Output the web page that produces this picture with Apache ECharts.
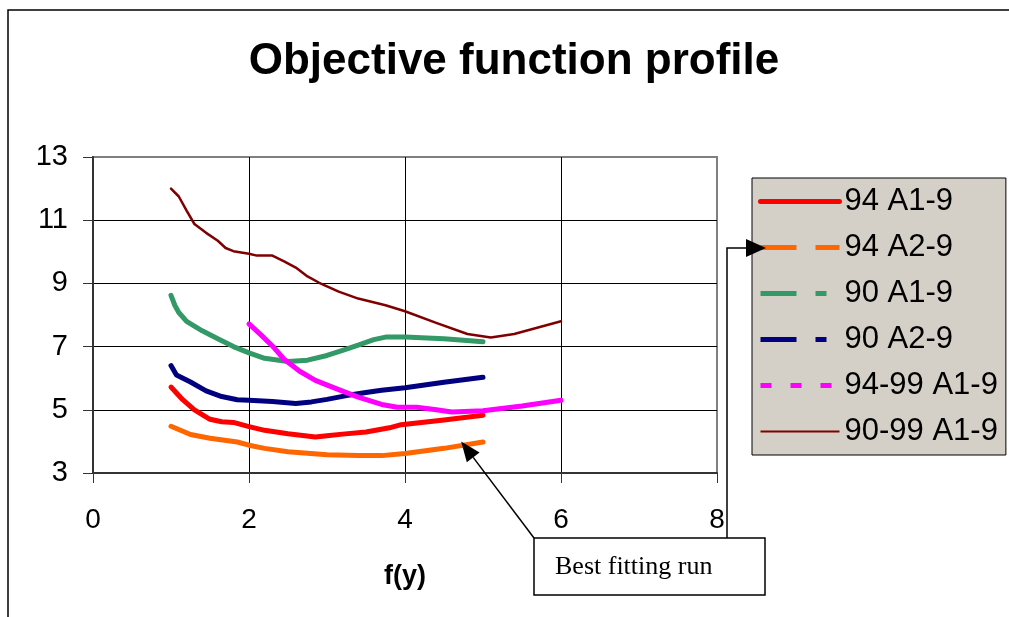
<!DOCTYPE html>
<html>
<head>
<meta charset="utf-8">
<script src="https://cdn.jsdelivr.net/npm/echarts@6/dist/echarts.min.js"></script>
<style>
html,body{margin:0;padding:0;background:#fff;}
#chart{width:1009px;height:617px;}
</style>
</head>
<body>
<div id="chart"></div>
<script>
// ---- data (x = f(y), y = objective function) ----
var seriesNames = ['94 A1-9', '94 A2-9', '90 A1-9', '90 A2-9', '94-99 A1-9', '90-99 A1-9'];
var s94A1 = [[1,5.72],[1.15,5.32],[1.3,5.0],[1.5,4.7],[1.65,4.62],[1.8,4.6],[2.0,4.47],[2.2,4.35],[2.5,4.24],[2.85,4.14],[3.0,4.18],[3.2,4.23],[3.5,4.3],[3.8,4.43],[3.95,4.53],[4.5,4.68],[5.0,4.83]];
var s94A2 = [[1,4.48],[1.25,4.22],[1.5,4.1],[1.85,3.98],[2.0,3.88],[2.2,3.78],[2.5,3.67],[3.0,3.58],[3.4,3.55],[3.7,3.55],[4.0,3.62],[4.5,3.78],[5.0,3.98]];
var s90A1 = [[1,8.62],[1.05,8.3],[1.1,8.08],[1.2,7.8],[1.4,7.5],[1.6,7.25],[1.8,7.0],[2.0,6.8],[2.2,6.63],[2.5,6.53],[2.75,6.57],[3.0,6.72],[3.2,6.88],[3.4,7.05],[3.6,7.22],[3.75,7.3],[4.0,7.3],[4.5,7.25],[5.0,7.15]];
var s90A2 = [[1,6.4],[1.07,6.1],[1.25,5.88],[1.45,5.6],[1.65,5.42],[1.85,5.32],[2.0,5.3],[2.3,5.26],[2.6,5.2],[2.8,5.25],[3.0,5.33],[3.25,5.45],[3.5,5.55],[3.7,5.62],[4.0,5.7],[4.5,5.87],[5.0,6.03]];
var s9499A1 = [[2,7.72],[2.15,7.38],[2.3,7.02],[2.45,6.6],[2.65,6.22],[2.85,5.93],[3.15,5.64],[3.4,5.4],[3.7,5.17],[3.9,5.08],[4.15,5.08],[4.4,5.0],[4.6,4.93],[5.0,4.97],[5.5,5.12],[6.0,5.3]];
var s9099A1 = [[1,12.0],[1.1,11.75],[1.2,11.3],[1.3,10.88],[1.45,10.6],[1.6,10.35],[1.7,10.12],[1.8,10.02],[2.0,9.94],[2.1,9.88],[2.3,9.88],[2.45,9.7],[2.6,9.5],[2.75,9.22],[2.9,9.02],[3.15,8.74],[3.4,8.52],[3.75,8.31],[4.0,8.12],[4.4,7.75],[4.8,7.4],[5.1,7.29],[5.4,7.4],[6.0,7.8]];
var xTicks = {min: 0, max: 8, interval: 2};
var yTicks = {min: 3, max: 13, interval: 2};
var titleText = 'Objective function profile';
var xAxisName = 'f(y)';
var noteText = 'Best fitting run';
var notePoint = [4.72, 4.0]; // arrow tip, data coords

var FONT = "'Liberation Sans', Arial, sans-serif";
var colors = ['#FF0000', '#FF6600', '#339966', '#000080', '#FF00FF', '#800000'];
var widths = [5, 5, 5, 5, 5, 2.5];
var legendWidths = [5, 5, 5, 5, 5, 2];
var legendTypes = ['solid', [36, 19], [36, 19, 11, 19], [36, 19, 11, 19], [11, 19], 'solid'];
var allData = [s94A1, s94A2, s90A1, s90A2, s9499A1, s9099A1];

var chart = echarts.init(document.getElementById('chart'));

var series = seriesNames.map(function (n, i) {
  return {
    name: n,
    type: 'line',
    data: allData[i],
    symbol: 'none',
    smooth: false,
    animation: false,
    lineStyle: {color: colors[i], width: widths[i], cap: 'round', join: 'round'},
    itemStyle: {color: colors[i]},
    z: 3 + i
  };
});

var option = {
  animation: false,
  backgroundColor: '#fff',
  grid: {left: 93, right: 292, top: 157, bottom: 144, show: true, borderColor: '#808080', borderWidth: 2, backgroundColor: 'transparent'},
  legend: {
    orient: 'vertical',
    left: 752, top: 178,
    padding: [8, 8, 8, 6],
    itemWidth: 79, itemHeight: 2, itemGap: 15,
    backgroundColor: '#D4D0C8', borderColor: '#000', borderWidth: 1,
    textStyle: {fontFamily: FONT, fontSize: 31, color: '#000', lineHeight: 30},
    data: seriesNames.map(function (n, i) {
      return {
        name: n,
        itemStyle: {opacity: 0, color: 'rgba(0,0,0,0)', borderWidth: 0},
        lineStyle: {color: colors[i], width: legendWidths[i], type: legendTypes[i], cap: i === 0 ? 'round' : 'butt'}
      };
    })
  },
  xAxis: {
    type: 'value', min: xTicks.min, max: xTicks.max, interval: xTicks.interval,
    name: xAxisName, nameLocation: 'middle', nameGap: 90,
    nameTextStyle: {fontFamily: FONT, fontSize: 27, fontWeight: 'bold', color: '#000'},
    axisLine: {show: true, onZero: false, lineStyle: {color: '#333', width: 2}},
    axisTick: {show: true, inside: false, length: 10, lineStyle: {color: '#333', width: 1}},
    axisLabel: {fontFamily: FONT, fontSize: 28, color: '#000', margin: 33},
    splitLine: {show: true, showMinLine: false, showMaxLine: false, lineStyle: {color: '#000', width: 1}}
  },
  yAxis: {
    type: 'value', min: yTicks.min, max: yTicks.max, interval: yTicks.interval,
    axisLine: {show: true, onZero: false, lineStyle: {color: '#333', width: 2}},
    axisTick: {show: true, inside: false, length: 10, lineStyle: {color: '#333', width: 1}},
    axisLabel: {fontFamily: FONT, fontSize: 29, color: '#000', margin: 25},
    splitLine: {show: true, showMinLine: false, showMaxLine: false, lineStyle: {color: '#000', width: 1}}
  },
  series: series
};
chart.setOption(option);

// annotations
var tip = chart.convertToPixel({gridIndex: 0}, notePoint);
var boxX = 534, boxY = 538, boxW = 231, boxH = 57;
var sx = boxX, sy = boxY;
var dx = tip[0] - sx, dy = tip[1] - sy, L = Math.sqrt(dx * dx + dy * dy);
var ux = dx / L, uy = dy / L, px = -uy, py = ux;
var hl = 20, hw = 8;
var bx = tip[0] - ux * hl, by = tip[1] - uy * hl;

chart.setOption({
  graphic: [
    {type: 'rect', shape: {x: 8, y: 10, width: 1020, height: 640}, style: {fill: 'none', stroke: '#000', lineWidth: 1.5}, silent: true, z: 0},
    {type: 'text', x: 514, y: 62, style: {text: titleText, fontFamily: FONT, fontSize: 44, fontWeight: 'bold', fill: '#000', textAlign: 'center', textVerticalAlign: 'middle'}, z: 10},
    {type: 'line', shape: {x1: sx, y1: sy, x2: bx, y2: by}, style: {stroke: '#000', lineWidth: 1.5}, z: 20},
    {type: 'polygon', shape: {points: [[tip[0], tip[1]], [bx + px * hw, by + py * hw], [bx - px * hw, by - py * hw]]}, style: {fill: '#000'}, z: 20},
    {type: 'polyline', shape: {points: [[727, boxY], [727, 248], [748, 248]]}, style: {stroke: '#000', lineWidth: 1.5, fill: 'none'}, z: 20},
    {type: 'polygon', shape: {points: [[766, 248], [746, 239], [746, 257]]}, style: {fill: '#000'}, z: 20},
    {type: 'rect', shape: {x: boxX, y: boxY, width: boxW, height: boxH}, style: {fill: '#fff', stroke: '#000', lineWidth: 1.5}, z: 21},
    {type: 'text', x: 555, y: boxY + boxH / 2 + 1, style: {text: noteText, fontFamily: "'Liberation Serif', 'Times New Roman', serif", fontSize: 26, fill: '#000', textVerticalAlign: 'middle'}, z: 22}
  ]
});
</script>
</body>
</html>
